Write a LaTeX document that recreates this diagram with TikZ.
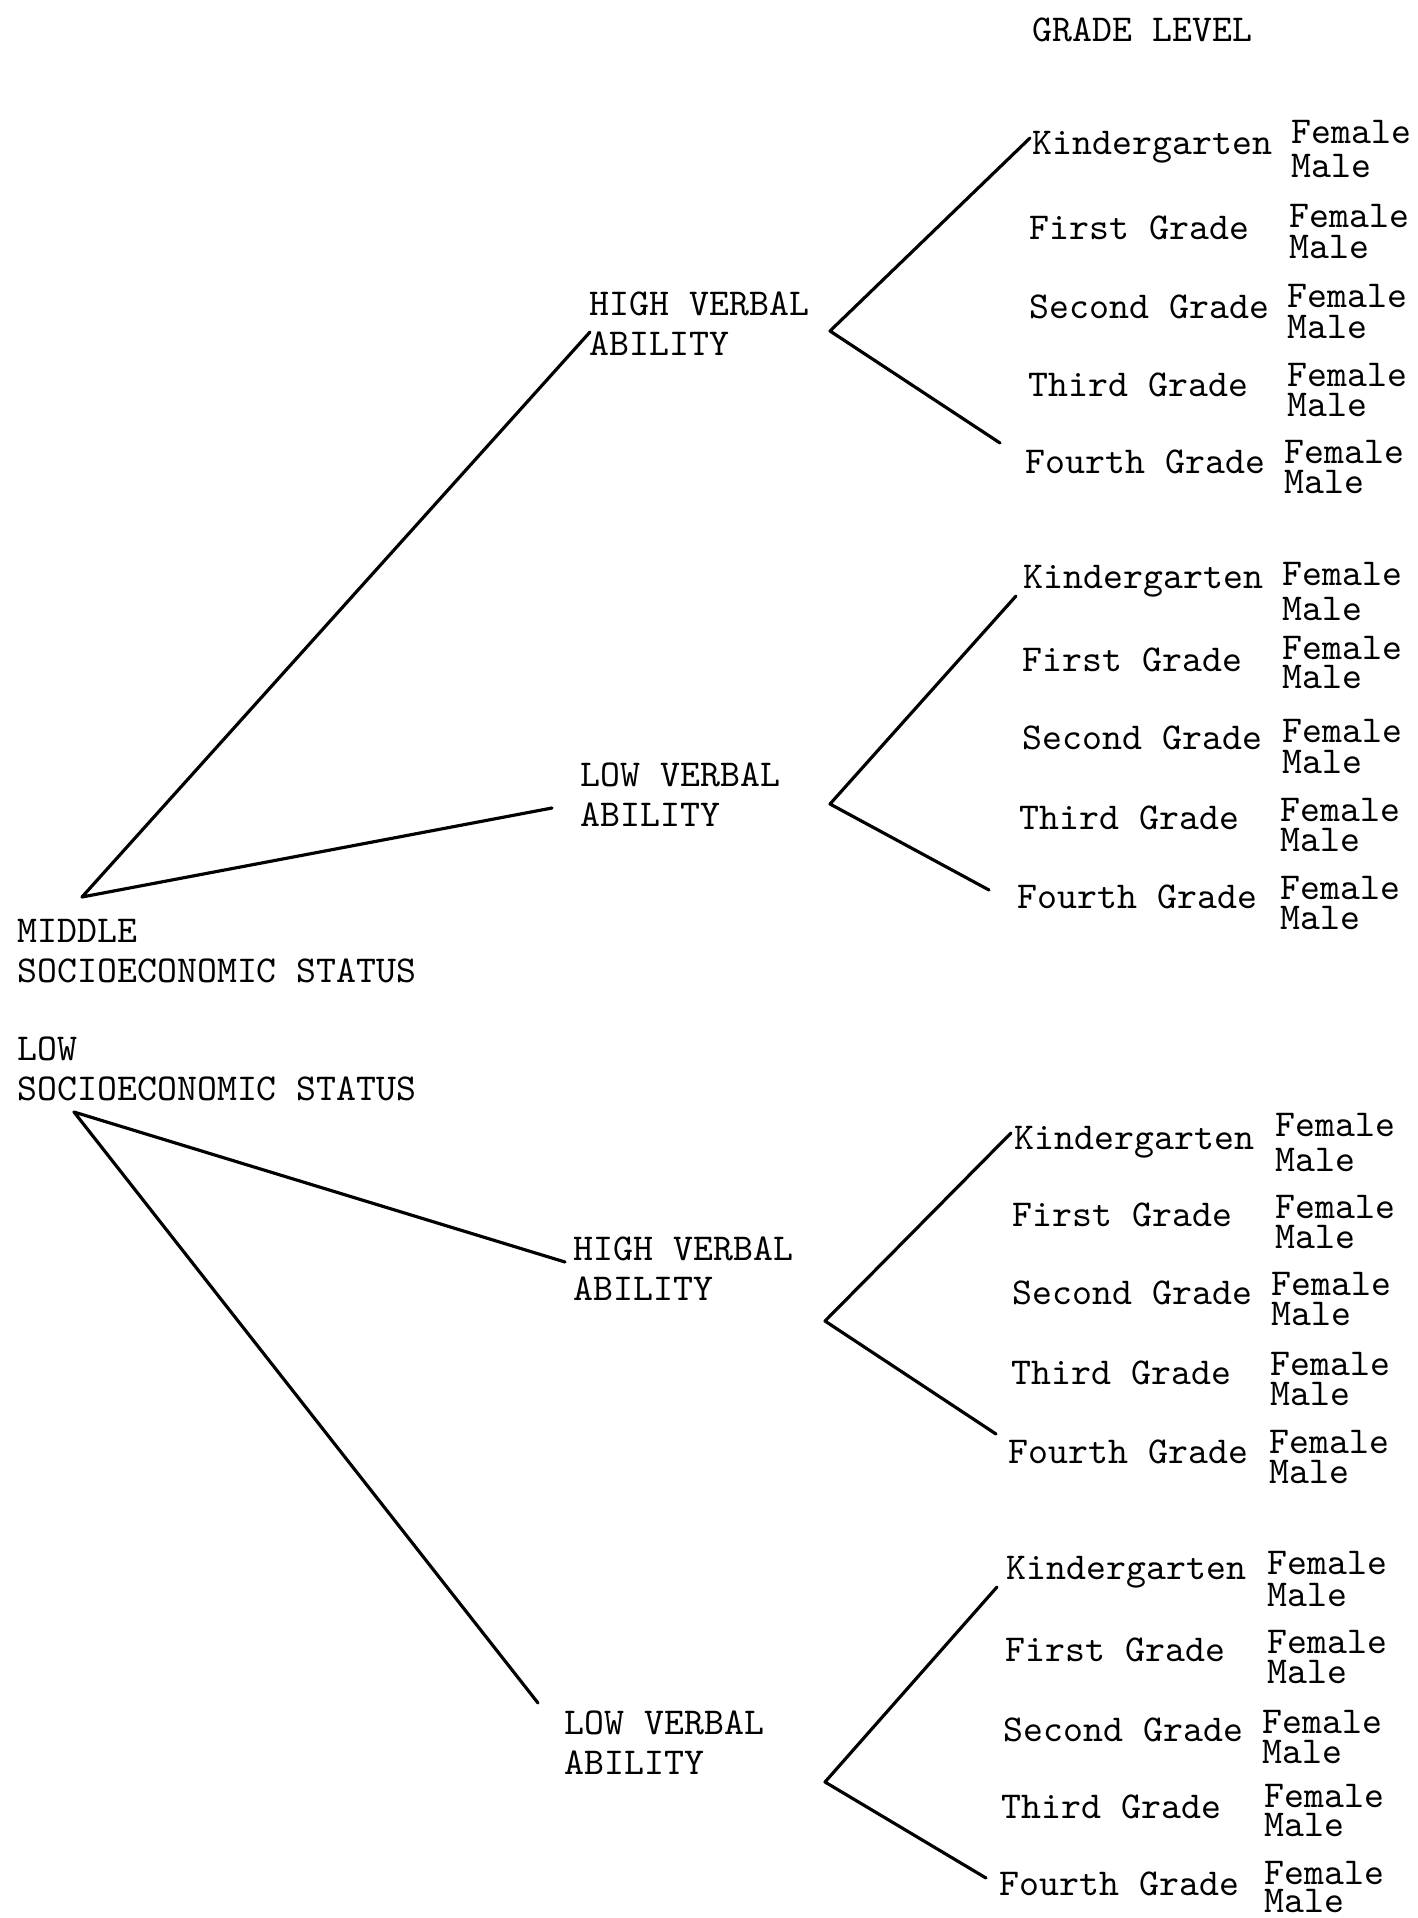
\documentclass[tikz,border=0pt]{standalone}
\usepackage{fontspec}
\usepackage{tikz}
\begin{document}
\begin{tikzpicture}[x=0.01cm,y=-0.01cm,
  lbl/.style={anchor=west,inner sep=0pt,font=\fontsize{10.8}{11.4}\selectfont\ttfamily},
  two/.style={lbl,align=left},
  sex/.style={anchor=west,inner sep=0pt,align=left,font=\fontsize{10.8}{#1pt}\selectfont\ttfamily},
  conn/.style={line width=0.9pt,line cap=round,line join=round}]
\useasboundingbox (0,0) rectangle (1417,1918);

\node[lbl] (gl) at (1032,30) {GRADE LEVEL};

% socioeconomic status
\node[two] (mses) at (17,951) {MIDDLE\\SOCIOECONOMIC STATUS};
\node[two] (lses) at (17,1069) {LOW\\SOCIOECONOMIC STATUS};
\coordinate (mapex) at (82,897);
\coordinate (lapex) at (74,1112);

% verbal ability
\node[two] (hv1) at (589,324) {HIGH VERBAL\\ABILITY};
\node[two] (lv1) at (580,795) {LOW VERBAL\\ABILITY};
\node[two] (hv2) at (573,1269) {HIGH VERBAL\\ABILITY};
\node[two] (lv2) at (564,1743) {LOW VERBAL\\ABILITY};

\coordinate (e1) at (590,332);
\coordinate (e2) at (552,808);
\coordinate (e3) at (565,1262);
\coordinate (e4) at (538,1703);

\coordinate (v1) at (830,331);
\coordinate (v2) at (830,804);
\coordinate (v3) at (825,1321);
\coordinate (v4) at (825,1782);

\coordinate (u1) at (1030,138);
\coordinate (u2) at (1016,596);
\coordinate (u3) at (1011,1133);
\coordinate (u4) at (997,1587);

\coordinate (d1) at (1000,443);
\coordinate (d2) at (989,890);
\coordinate (d3) at (996,1434);
\coordinate (d4) at (986,1878);

% grade levels with Female / Male
\foreach \i/\gx/\gy/\fx/\fy/\bs/\txt in {
  1/1032/147/1291/149/9.67/Kindergarten,
  2/1029/228/1289/231.5/8.82/First Grade,
  3/1029/307/1287/311.5/8.82/Second Grade,
  4/1028/385/1287/390/8.54/Third Grade,
  5/1025/462/1284/467/8.54/Fourth Grade}{
  \node[lbl] (gA\i) at (\gx,\gy) {\txt};
  \node[sex=\bs] (sA\i) at (\fx,\fy) {Female\\Male};
}
\foreach \i/\gx/\gy/\fx/\fy/\bs/\txt in {
  1/1023/581/1282/591.5/9.96/Kindergarten,
  2/1022/660/1282/662.5/8.25/First Grade,
  3/1022/738/1282/746.5/8.82/Second Grade,
  4/1019/818/1280/825/8.54/Third Grade,
  5/1017/897/1280/903/8.54/Fourth Grade}{
  \node[lbl] (gB\i) at (\gx,\gy) {\txt};
  \node[sex=\bs] (sB\i) at (\fx,\fy) {Female\\Male};
}
\foreach \i/\gx/\gy/\fx/\fy/\bs/\txt in {
  1/1014/1142/1275/1142.5/9.96/Kindergarten,
  2/1012/1215/1275/1222/8.54/First Grade,
  3/1012/1293/1271/1299/8.54/Second Grade,
  4/1011/1373/1270/1379/8.54/Third Grade,
  5/1008/1452/1269/1457/8.54/Fourth Grade}{
  \node[lbl] (gC\i) at (\gx,\gy) {\txt};
  \node[sex=\bs] (sC\i) at (\fx,\fy) {Female\\Male};
}
\foreach \i/\gx/\gy/\fx/\fy/\bs/\txt in {
  1/1006/1572/1267/1579/9.10/Kindergarten,
  2/1005/1650/1267/1657/8.54/First Grade,
  3/1003/1730/1262/1737/8.54/Second Grade,
  4/1001/1807/1264/1810.5/8.25/Third Grade,
  5/999/1884/1264/1887/7.97/Fourth Grade}{
  \node[lbl] (gD\i) at (\gx,\gy) {\txt};
  \node[sex=\bs] (sD\i) at (\fx,\fy) {Female\\Male};
}

% connectors
\draw[conn] (e1) -- (mapex) -- (e2);
\draw[conn] (e3) -- (lapex) -- (e4);
\draw[conn] (u1) -- (v1) -- (d1);
\draw[conn] (u2) -- (v2) -- (d2);
\draw[conn] (u3) -- (v3) -- (d3);
\draw[conn] (u4) -- (v4) -- (d4);
\end{tikzpicture}
\end{document}
